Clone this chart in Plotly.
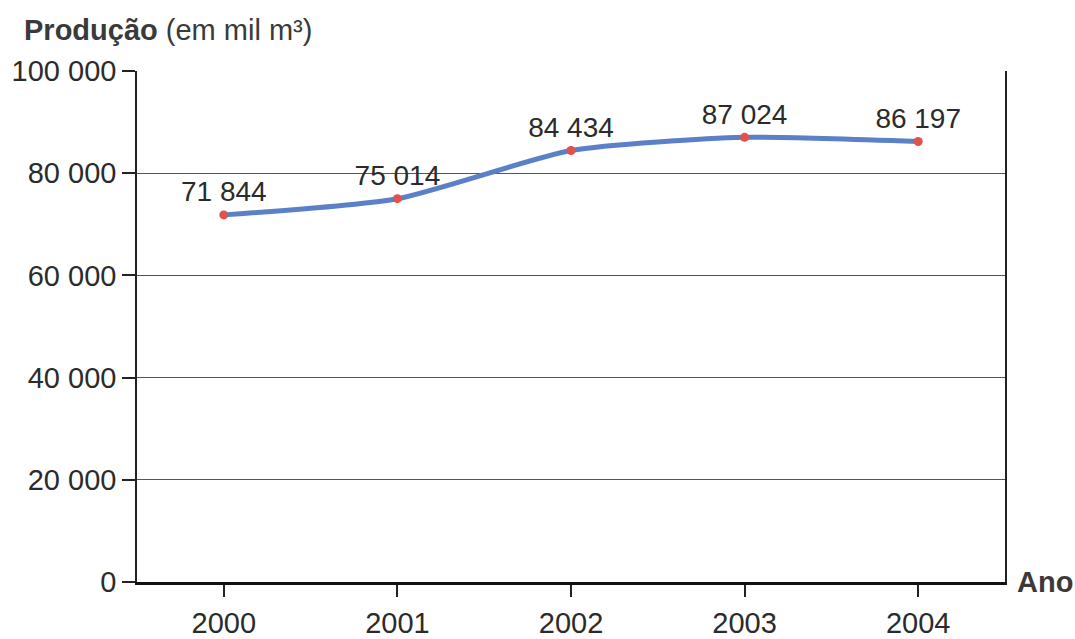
import plotly.graph_objects as go

years = [2000, 2001, 2002, 2003, 2004]
production = [71844, 75014, 84434, 87024, 86197]
y_ticks = [0, 20000, 40000, 60000, 80000, 100000]
y_tick_labels = ["0", "20 000", "40 000", "60 000", "80 000", "100 000"]
point_labels = ["71 844", "75 014", "84 434", "87 024", "86 197"]

FONT = "Liberation Sans, Arial, sans-serif"
TXT = "#2b2b2b"

fig = go.Figure()
fig.add_trace(go.Scatter(
    x=years, y=production,
    mode="lines+markers+text",
    line=dict(color="#5b80c8", width=5, shape="spline", smoothing=0.6),
    marker=dict(color="#e2524c", size=9),
    text=point_labels,
    textposition="top center",
    textfont=dict(family=FONT, size=28, color=TXT),
    cliponaxis=False,
    hoverinfo="skip",
))

fig.update_layout(
    width=1075, height=639,
    margin=dict(l=137, r=70, t=71, b=57, autoexpand=False),
    paper_bgcolor="white", plot_bgcolor="white",
    showlegend=False,
    font=dict(family=FONT, size=28, color=TXT),
    xaxis=dict(
        range=[1999.5, 2004.5],
        tickvals=years, ticktext=[str(y) for y in years],
        ticks="outside", ticklen=12, tickwidth=1.5, tickcolor="#222",
        ticklabelstandoff=1,
        showgrid=False, zeroline=False,
        showline=True, linecolor="#111", linewidth=2.5, mirror=False,
        tickfont=dict(family=FONT, size=29, color=TXT),
        automargin=False,
        fixedrange=True,
    ),
    yaxis=dict(
        range=[0, 100000],
        tickvals=y_ticks, ticktext=y_tick_labels,
        ticks="outside", ticklen=13, tickwidth=1.5, tickcolor="#222",
        showgrid=True, gridcolor="#555", gridwidth=1,
        zeroline=False,
        showline=True, linecolor="#222", linewidth=1.5, mirror=True,
        tickfont=dict(family=FONT, size=29, color=TXT),
        automargin=False,
        fixedrange=True,
    ),
    annotations=[
        dict(xref="paper", yref="paper", x=-0.1325, y=1.08,
             xanchor="left", yanchor="middle", showarrow=False,
             text="<b>Produção</b> (em mil m³)",
             font=dict(family=FONT, size=29, color="#3a3a3a")),
        dict(xref="paper", yref="paper", x=1.0115, y=0.0,
             xanchor="left", yanchor="middle", showarrow=False,
             text="<b>Ano</b>",
             font=dict(family=FONT, size=29, color="#3a3a3a")),
    ],
)

fig.write_html("out.html")
